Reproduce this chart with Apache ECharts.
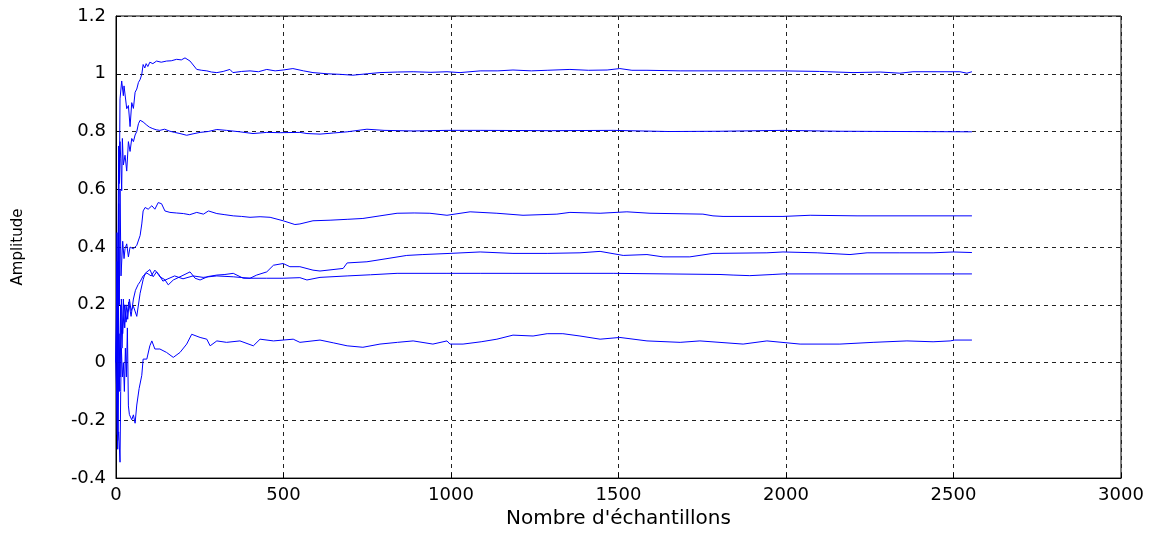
<!DOCTYPE html>
<html>
<head>
<meta charset="utf-8">
<script src="https://cdn.jsdelivr.net/npm/echarts@6/dist/echarts.min.js"></script>
<style>html,body{margin:0;padding:0;background:#fff}#c{width:1164px;height:534px}</style>
</head>
<body>
<div id="c"></div>
<script>
var xTicks = [0, 500, 1000, 1500, 2000, 2500, 3000];
var yTicks = [-0.4, -0.2, 0, 0.2, 0.4, 0.6, 0.8, 1, 1.2];

var seriesA = [[0,0],[3,0.45],[5,0.2],[8,0.75],[10,0.62],[12,0.913],[17,0.975],[22,0.924],[24,0.958],[32,0.879],[37,0.89],[42,0.817],[47,0.9],[52,0.88],[57,0.936],[62,0.947],[67,0.97],[72,0.98],[77,0.998],[81,1.032],[86,1.02],[90,1.035],[95,1.025],[101,1.04],[110,1.035],[121,1.044],[135,1.04],[151,1.044],[165,1.045],[181,1.05],[195,1.048],[206,1.055],[221,1.044],[241,1.015],[256,1.012],[271,1.01],[285,1.006],[301,1.004],[320,1.008],[340,1.015],[349,1.004],[375,1.008],[400,1.01],[425,1.007],[450,1.015],[475,1.01],[499,1.013],[528,1.018],[560,1.01],[588,1.004],[630,1.0],[669,0.998],[707,0.995],[750,1.0],[788,1.004],[840,1.006],[887,1.007],[940,1.005],[988,1.007],[1027,1.004],[1087,1.01],[1140,1.01],[1185,1.013],[1240,1.01],[1287,1.012],[1355,1.015],[1410,1.012],[1466,1.013],[1504,1.018],[1540,1.012],[1585,1.012],[1684,1.01],[1773,1.01],[1872,1.01],[1991,1.01],[2100,1.008],[2200,1.004],[2281,1.006],[2340,1.002],[2379,1.007],[2519,1.007],[2540,1.002],[2555,1.007]];

var seriesB = [[0,0],[3,0.35],[5,-0.05],[8,0.5],[10,0.72],[12,0.765],[14,0.708],[17,0.595],[19,0.776],[22,0.684],[27,0.718],[32,0.663],[37,0.765],[42,0.731],[47,0.776],[52,0.765],[57,0.788],[62,0.8],[67,0.827],[72,0.839],[81,0.833],[92,0.822],[100,0.815],[110,0.81],[120,0.806],[131,0.804],[145,0.808],[161,0.801],[175,0.797],[191,0.793],[211,0.787],[230,0.792],[251,0.797],[275,0.8],[301,0.807],[330,0.804],[370,0.799],[409,0.793],[450,0.797],[490,0.796],[549,0.797],[570,0.793],[609,0.791],[650,0.795],[690,0.799],[749,0.808],[800,0.804],[887,0.802],[988,0.804],[1087,0.804],[1300,0.803],[1484,0.804],[1650,0.8],[1803,0.801],[1991,0.804],[2161,0.801],[2555,0.799]];

var seriesC = [[0,0],[3,0.25],[5,-0.3],[8,0.55],[10,0.2],[12,0.6],[15,0.3],[20,0.42],[24,0.36],[27,0.394],[32,0.411],[37,0.366],[42,0.4],[52,0.394],[62,0.406],[72,0.44],[77,0.48],[81,0.525],[87,0.537],[96,0.531],[107,0.543],[116,0.531],[126,0.554],[136,0.55],[146,0.525],[161,0.52],[180,0.518],[201,0.516],[220,0.512],[241,0.52],[261,0.514],[276,0.525],[301,0.516],[325,0.512],[350,0.508],[375,0.506],[400,0.503],[430,0.505],[460,0.503],[499,0.491],[534,0.478],[549,0.48],[588,0.491],[639,0.493],[690,0.496],[737,0.499],[788,0.508],[839,0.517],[890,0.518],[937,0.517],[988,0.51],[1057,0.522],[1137,0.517],[1215,0.51],[1316,0.514],[1355,0.52],[1445,0.517],[1525,0.522],[1594,0.517],[1752,0.514],[1782,0.508],[1812,0.506],[1991,0.506],[2072,0.51],[2212,0.508],[2555,0.508]];

var seriesD = [[0,0],[4,-0.25],[7,0.25],[10,-0.1],[14,0.2],[18,0.05],[22,0.22],[26,0.12],[30,0.2],[35,0.15],[40,0.22],[45,0.18],[52,0.195],[62,0.16],[72,0.24],[81,0.287],[87,0.309],[101,0.322],[111,0.297],[121,0.314],[131,0.297],[146,0.287],[156,0.269],[171,0.286],[191,0.297],[221,0.314],[236,0.292],[251,0.286],[275,0.298],[301,0.303],[325,0.305],[350,0.309],[380,0.292],[400,0.292],[420,0.303],[450,0.314],[470,0.337],[499,0.343],[519,0.332],[549,0.332],[588,0.32],[609,0.317],[678,0.326],[690,0.345],[749,0.349],[809,0.36],[868,0.371],[916,0.374],[997,0.378],[1087,0.383],[1185,0.378],[1287,0.378],[1385,0.38],[1445,0.385],[1514,0.371],[1585,0.374],[1633,0.366],[1713,0.366],[1782,0.378],[1943,0.38],[1991,0.383],[2093,0.38],[2191,0.374],[2242,0.38],[2340,0.38],[2439,0.38],[2499,0.383],[2555,0.381]];

var seriesE = [[0,0],[3,0.2],[6,-0.25],[9,0.1],[12,-0.05],[16,0.22],[20,0.1],[25,0.2],[30,0.14],[38,0.21],[45,0.16],[52,0.22],[58,0.25],[66,0.27],[72,0.28],[81,0.3],[92,0.31],[105,0.3],[116,0.32],[128,0.305],[140,0.282],[155,0.29],[175,0.3],[200,0.29],[230,0.3],[260,0.295],[301,0.3],[350,0.297],[400,0.292],[450,0.292],[499,0.292],[549,0.294],[570,0.286],[609,0.295],[690,0.3],[760,0.304],[839,0.309],[988,0.309],[1087,0.309],[1185,0.309],[1484,0.309],[1803,0.305],[1842,0.303],[1892,0.301],[1961,0.305],[1991,0.307],[2555,0.307]];

var seriesF = [[0,0],[2,-0.1],[5,-0.27],[8,-0.24],[12,-0.345],[14,-0.1],[16,0.05],[19,-0.05],[22,0.0],[25,-0.1],[28,0.05],[31,-0.05],[34,0.12],[37,-0.15],[40,-0.18],[42,-0.181],[47,-0.198],[52,-0.181],[57,-0.21],[62,-0.147],[67,-0.141],[69,-0.09],[77,-0.044],[81,0.012],[92,0.012],[101,0.058],[107,0.075],[116,0.047],[131,0.047],[151,0.035],[171,0.018],[191,0.035],[211,0.064],[226,0.098],[251,0.087],[271,0.081],[281,0.058],[301,0.075],[330,0.07],[370,0.075],[410,0.058],[430,0.081],[470,0.075],[499,0.078],[529,0.081],[549,0.07],[609,0.078],[650,0.068],[690,0.058],[737,0.053],[788,0.064],[840,0.07],[887,0.075],[946,0.064],[988,0.075],[997,0.064],[1036,0.064],[1090,0.072],[1137,0.081],[1185,0.095],[1245,0.092],[1287,0.1],[1334,0.1],[1385,0.092],[1445,0.081],[1504,0.087],[1585,0.075],[1684,0.07],[1743,0.075],[1872,0.064],[1943,0.075],[2042,0.064],[2161,0.064],[2260,0.07],[2361,0.075],[2439,0.072],[2490,0.075],[2504,0.078],[2555,0.078]];

var allSeries = [seriesA, seriesB, seriesC, seriesD, seriesE, seriesF];

var chart = echarts.init(document.getElementById('c'), null, {renderer: 'canvas'});
var font = 'DejaVu Sans, Liberation Sans, Arial, sans-serif';
chart.setOption({
  animation: false,
  backgroundColor: '#fff',
  grid: {left: 116, top: 16, right: 43, bottom: 50, show: true, borderColor: '#000', borderWidth: 1, containLabel: false},
  xAxis: {
    type: 'value', min: xTicks[0], max: xTicks[xTicks.length-1], interval: 500,
    name: "Nombre d'échantillons", nameLocation: 'middle', nameGap: 26,
    nameTextStyle: {fontFamily: font, fontSize: 20, color: '#000'},
    axisLine: {show: true, onZero: false, lineStyle: {color: '#000', width: 1}},
    axisTick: {show: true, inside: true, length: 5, lineStyle: {color: '#000'}},
    axisLabel: {fontFamily: font, fontSize: 18, color: '#000', margin: 8,
      formatter: function (v) { return String(v); }},
    splitLine: {show: true, lineStyle: {color: '#222', type: [4, 4], width: 1}}
  },
  yAxis: {
    type: 'value', min: yTicks[0], max: yTicks[yTicks.length-1], interval: 0.2,
    name: 'Amplitude', nameLocation: 'middle', nameGap: 90,
    nameTextStyle: {fontFamily: font, fontSize: 15, color: '#000'},
    axisLine: {show: true, onZero: false, lineStyle: {color: '#000', width: 1}},
    axisTick: {show: true, inside: true, length: 5, lineStyle: {color: '#000'}},
    axisLabel: {fontFamily: font, fontSize: 18, color: '#000', margin: 10,
      formatter: function (v) { return String(Math.round(v * 10) / 10); }},
    splitLine: {show: true, lineStyle: {color: '#222', type: [4, 4], width: 1}}
  },
  series: allSeries.map(function (d) {
    return {type: 'line', data: d, showSymbol: false, symbol: 'none',
      lineStyle: {color: '#0000ff', width: 1}, silent: true};
  })
});
</script>
</body>
</html>
